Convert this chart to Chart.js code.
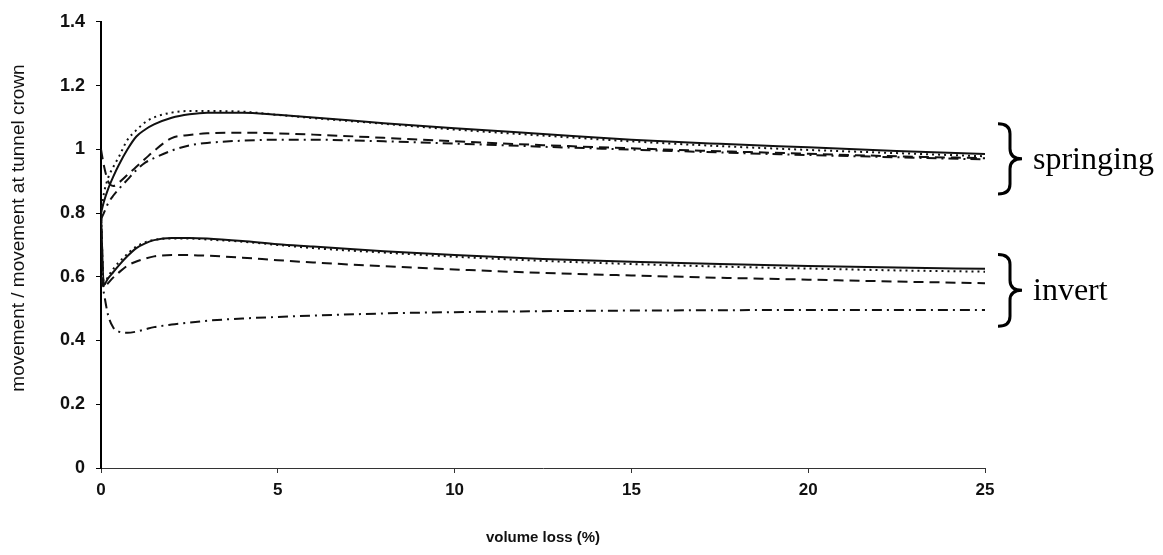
<!DOCTYPE html>
<html>
<head>
<meta charset="utf-8">
<script src="https://cdn.jsdelivr.net/npm/chart.js@4"></script>
<style>
  html, body { margin: 0; padding: 0; background: #fff; }
  #wrap { width: 1163px; height: 555px; }
</style>
</head>
<body>
<div id="wrap"><canvas id="chart" width="1163" height="555"></canvas></div>
<script>
// volume loss (%) sample points, shared by all curves
const volumeLoss = [0, 0.08, 0.2, 0.35, 0.5, 0.75, 1, 1.25, 1.5, 2, 2.5, 3, 4, 5, 6, 8, 10, 12.5, 15, 17.5, 20, 22.5, 25];

// springing group
const springSolid   = [0.80, 0.835, 0.875, 0.915, 0.95, 1.0, 1.04, 1.062, 1.078, 1.099, 1.11, 1.115, 1.115, 1.108, 1.10, 1.082, 1.066, 1.048, 1.03, 1.017, 1.006, 0.995, 0.985];
const springDotted  = [0.80, 0.86, 0.91, 0.945, 0.975, 1.03, 1.06, 1.085, 1.10, 1.115, 1.12, 1.12, 1.118, 1.108, 1.098, 1.08, 1.062, 1.043, 1.025, 1.01, 0.998, 0.988, 0.978];
const springDashed  = [1.00, 0.95, 0.90, 0.885, 0.895, 0.92, 0.945, 0.97, 0.995, 1.035, 1.045, 1.05, 1.052, 1.05, 1.046, 1.036, 1.025, 1.013, 1.003, 0.994, 0.986, 0.978, 0.972];
const springDashDot = [0.78, 0.80, 0.83, 0.855, 0.875, 0.905, 0.935, 0.958, 0.972, 0.996, 1.012, 1.02, 1.027, 1.03, 1.03, 1.025, 1.018, 1.008, 0.999, 0.99, 0.982, 0.975, 0.968];

// invert group
const invertSolid   = [0.80, 0.575, 0.595, 0.615, 0.635, 0.665, 0.69, 0.705, 0.715, 0.722, 0.722, 0.72, 0.712, 0.702, 0.695, 0.68, 0.668, 0.656, 0.647, 0.64, 0.634, 0.629, 0.625];
const invertDotted  = [0.80, 0.575, 0.60, 0.625, 0.645, 0.672, 0.695, 0.708, 0.716, 0.72, 0.72, 0.717, 0.71, 0.70, 0.69, 0.676, 0.663, 0.65, 0.64, 0.632, 0.626, 0.62, 0.616];
const invertDashed  = [0.80, 0.565, 0.58, 0.598, 0.613, 0.635, 0.648, 0.657, 0.664, 0.668, 0.668, 0.666, 0.66, 0.652, 0.645, 0.633, 0.623, 0.612, 0.604, 0.597, 0.591, 0.585, 0.58];
const invertDashDot = [0.60, 0.55, 0.48, 0.44, 0.428, 0.424, 0.428, 0.435, 0.442, 0.45, 0.456, 0.462, 0.469, 0.474, 0.478, 0.485, 0.489, 0.492, 0.494, 0.495, 0.496, 0.496, 0.496];

// brace annotations: label and y range (top, bottom)
const groupLabels = ['springing', 'invert'];
const groupRanges = [[1.08, 0.86], [0.67, 0.445]];

const yTicks = [0, 0.2, 0.4, 0.6, 0.8, 1, 1.2, 1.4];
const yTitle = 'movement / movement at tunnel crown';

const LINE = '#111';
const DASHES = {
    solid: [],
    dotted: [2, 4],
    dashed: [10, 6],
    dashDot: [10, 5, 2, 5]
};

function serie(values, dash) {
    return {
        data: volumeLoss.map((x, i) => ({ x: x, y: values[i] })),
        borderColor: LINE,
        borderWidth: 2,
        borderDash: DASHES[dash],
        pointRadius: 0,
        fill: false,
        cubicInterpolationMode: 'monotone'
    };
}

// draws the curly braces, the group names and the y axis title
const bracePlugin = {
    id: 'braces',
    afterDatasetsDraw(chart) {
        const ctx = chart.ctx;
        const y = chart.scales.y;
        const area = chart.chartArea;
        const x0 = area.right + 13;
        const w = 24;
        const xm = x0 + w / 2;
        ctx.save();
        groupLabels.forEach((label, i) => {
            const yT = y.getPixelForValue(groupRanges[i][0]);
            const yB = y.getPixelForValue(groupRanges[i][1]);
            const ym = (yT + yB) / 2;
            const r = 10;
            ctx.beginPath();
            ctx.moveTo(x0, yT);
            ctx.quadraticCurveTo(xm, yT, xm, yT + r);
            ctx.lineTo(xm, ym - r);
            ctx.quadraticCurveTo(xm, ym, x0 + w, ym);
            ctx.quadraticCurveTo(xm, ym, xm, ym + r);
            ctx.lineTo(xm, yB - r);
            ctx.quadraticCurveTo(xm, yB, x0, yB);
            ctx.strokeStyle = '#000';
            ctx.lineWidth = 3;
            ctx.stroke();

            ctx.fillStyle = '#000';
            ctx.font = "32px 'Liberation Serif', 'Times New Roman', serif";
            ctx.textBaseline = 'alphabetic';
            ctx.textAlign = 'left';
            ctx.fillText(label, x0 + w + 11, ym + 10);
        });

        // y title, a bit above the middle of the axis like the original
        ctx.translate(19, 228);
        ctx.rotate(-Math.PI / 2);
        ctx.font = "19px 'Liberation Sans', Arial, sans-serif";
        ctx.fillStyle = '#111';
        ctx.textAlign = 'center';
        ctx.textBaseline = 'middle';
        ctx.fillText(yTitle, 0, 0);
        ctx.restore();
    }
};

new Chart(document.getElementById('chart'), {
    type: 'line',
    data: {
        datasets: [
            serie(springSolid, 'solid'),
            serie(springDotted, 'dotted'),
            serie(springDashed, 'dashed'),
            serie(springDashDot, 'dashDot'),
            serie(invertSolid, 'solid'),
            serie(invertDotted, 'dotted'),
            serie(invertDashed, 'dashed'),
            serie(invertDashDot, 'dashDot')
        ]
    },
    options: {
        responsive: false,
        animation: false,
        layout: {
            padding: { top: 20, right: 178, bottom: 0, left: 0 }
        },
        plugins: {
            legend: { display: false },
            tooltip: { enabled: false }
        },
        scales: {
            x: {
                type: 'linear',
                min: 0,
                max: 25,
                afterFit: function(scale) { scale.height = 87; },
                ticks: {
                    stepSize: 5,
                    color: '#111',
                    padding: 7,
                    maxRotation: 0,
                    font: { family: "'Liberation Sans', Arial, sans-serif", size: 17, weight: 'bold' }
                },
                grid: {
                    drawOnChartArea: false,
                    drawTicks: true,
                    tickLength: 5,
                    color: '#333'
                },
                border: { color: '#333', width: 1 },
                title: {
                    display: true,
                    text: 'volume loss (%)',
                    color: '#111',
                    padding: { top: 0, bottom: 8 },
                    font: { family: "'Liberation Sans', Arial, sans-serif", size: 15, weight: 'bold' }
                }
            },
            y: {
                min: 0,
                max: 1.4,
                afterFit: function(scale) { scale.width = 101; },
                afterBuildTicks: function(scale) {
                    scale.ticks = yTicks.map(v => ({ value: v }));
                },
                ticks: {
                    color: '#111',
                    padding: 11,
                    callback: v => String(+v.toFixed(1)),
                    font: { family: "'Liberation Sans', Arial, sans-serif", size: 18, weight: 'bold' }
                },
                grid: {
                    drawOnChartArea: false,
                    drawTicks: true,
                    tickLength: 5,
                    color: '#000'
                },
                border: { color: '#000', width: 2 },
                title: { display: false }
            }
        }
    },
    plugins: [bracePlugin]
});
</script>
</body>
</html>
